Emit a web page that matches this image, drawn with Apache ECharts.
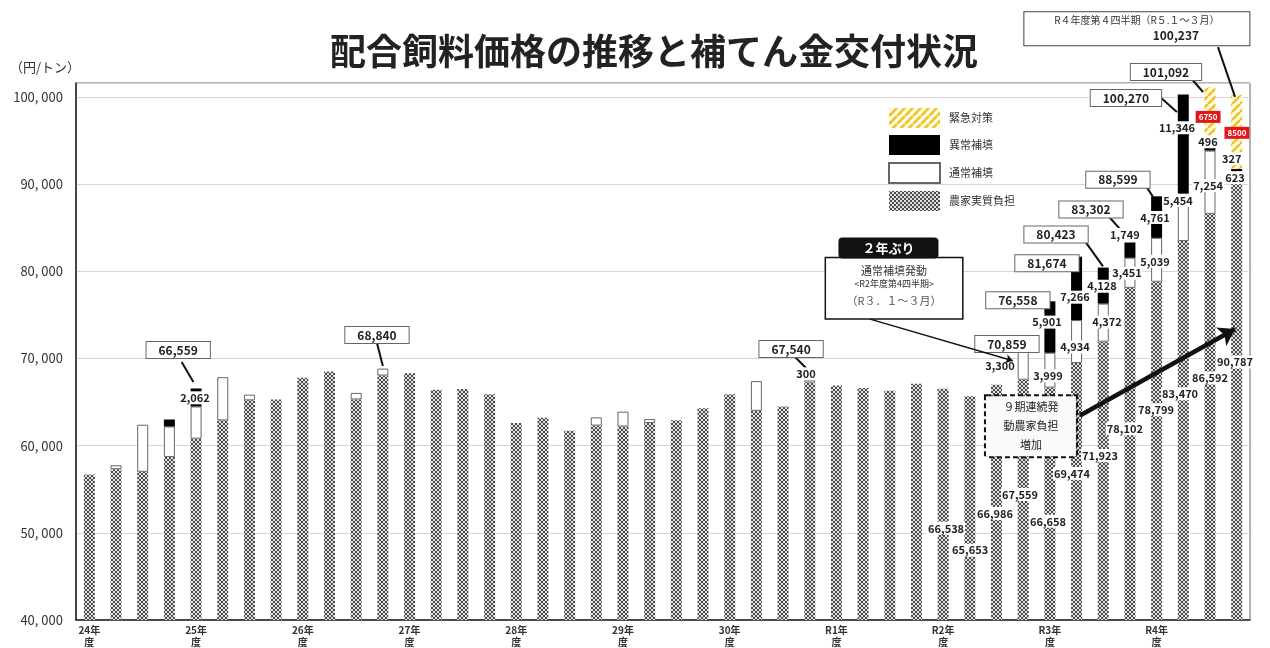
<!DOCTYPE html>
<html><head><meta charset="utf-8">
<script src="https://cdn.jsdelivr.net/npm/echarts@6/dist/echarts.min.js"></script>
<style>html,body{margin:0;padding:0;background:#fff}#c{width:1270px;height:648px}</style>
</head><body><div id="c"></div>
<script>
// ---------- DATA ----------
const yearLabels = ['24年\n度','25年\n度','26年\n度','27年\n度','28年\n度','29年\n度','30年\n度','R1年\n度','R2年\n度','R3年\n度','R4年\n度'];
const quarters = ['Q1','Q2','Q3','Q4'];
const yTicks = [40000,50000,60000,70000,80000,90000,100000];
// 農家実質負担
const farmer = [56700,57300,57000,58700,60800,62900,65200,65300,67800,68500,
                65300,68040,68300,66400,66500,65900,62600,63200,61700,62300,
                62200,62600,62900,64300,65900,64000,64500,67240,66900,66600,
                66300,67100,66538,65653,66986,67559,66658,69474,71923,78102,
                78799,83470,86592,90787];
// 通常補填
const normal = [0,450,5400,3500,3697,4950,650,0,0,0,
                750,800,0,0,0,0,0,0,0,950,
                1700,450,0,0,0,3400,0,300,0,0,
                0,0,0,0,0,3300,3999,4934,4372,3451,
                5039,5454,7254,623];
// 異常補填
const abnormal = [0,0,0,800,2062,0,0,0,0,0,
                  0,0,0,0,0,0,0,0,0,0,
                  0,0,0,0,0,0,0,0,0,0,
                  0,0,0,0,0,0,5901,7266,4128,1749,
                  4761,11346,496,327];
// 緊急対策
const emergency = [0,0,0,0,0,0,0,0,0,0,
                   0,0,0,0,0,0,0,0,0,0,
                   0,0,0,0,0,0,0,0,0,0,
                   0,0,0,0,0,0,0,0,0,0,
                   0,0,6750,8500];

const categories = [];
yearLabels.forEach(y => quarters.forEach(q => categories.push(y.replace('\n','') + q)));
const seriesData = {farmer, normal, abnormal, emergency};
const total = i => farmer[i] + normal[i] + abnormal[i] + emergency[i];
const fmt = v => v.toLocaleString('en-US');

// ---------- ANNOTATION PLACEMENT (bar index, field, label position in axis units) ----------
const segLabelPos = [
  [4,'abnormal',3.96,65486],[27,'normal',26.86,68229],[35,'normal',34.13,69143],
  [36,'normal',35.93,68000],[36,'abnormal',35.89,74171],[37,'normal',36.94,71314],
  [37,'abnormal',36.94,77029],[38,'abnormal',37.95,78286],[38,'normal',38.14,74171],
  [39,'normal',38.89,79771],[39,'abnormal',38.81,84229],[40,'normal',39.94,81143],
  [40,'abnormal',39.94,86171],[41,'normal',40.80,88114],[41,'abnormal',40.76,96457],
  [42,'normal',41.93,89829],[42,'abnormal',41.93,94857],[43,'abnormal',42.82,92914],
  [43,'normal',42.94,90743],
  [32,'farmer',32.11,50514],[33,'farmer',33.01,48000],[34,'farmer',33.94,52229],
  [35,'farmer',34.88,54400],[36,'farmer',35.93,51314],[37,'farmer',36.83,56800],
  [38,'farmer',37.88,58857],[39,'farmer',38.81,61943],[40,'farmer',39.98,64114],
  [41,'farmer',40.88,65943],[42,'farmer',42.0,67771],[43,'farmer',42.94,69600]
];
const redLabelPos = [[42,'emergency',41.93,97714],[43,'emergency',43.01,95886]];
const totalBoxPos = [[4,3.33,70971],[11,10.78,72686],[27,26.30,71086],[35,34.39,71657],
  [36,34.80,76686],[37,35.89,80914],[38,36.23,84229],[39,37.54,87086],[40,38.55,90514],
  [41,38.85,99886],[42,40.35,102857]];
const leaderPos = [[3.46,69600,3.90,67314],[10.78,71771,11.00,69143],[26.45,70171,26.86,68914],
  [37.32,83429,37.99,80571],[38.14,86514,38.74,84457],[39.49,90286,39.86,88571],
  [40.13,100000,40.76,98286],[41.25,102286,41.74,100571],[42.30,105714,42.94,100000]];
const arrowPos = [
  {c:[29.26,74514,34.61,69748], w:1.5, s:7},
  {c:[37.13,63467,42.94,73371], w:4.5, s:16}
];

// ---------- PATTERNS ----------
function makePattern(w,h,draw){const c=document.createElement('canvas');c.width=w;c.height=h;draw(c.getContext('2d'));return c;}
const farmerPat = makePattern(4,4,g=>{g.fillStyle='#e2e2e2';g.fillRect(0,0,4,4);g.fillStyle='#4a4a4a';
  [[0,0],[3,0],[1,1],[2,1],[1,2],[2,2],[0,3],[3,3]].forEach(p=>g.fillRect(p[0],p[1],1,1));});
const yellowPat = makePattern(8,8,g=>{g.fillStyle='#fffbe0';g.fillRect(0,0,8,8);g.strokeStyle='#eec22a';g.lineWidth=2.6;
  g.beginPath();[-8,0,8].forEach(k=>{g.moveTo(k,8);g.lineTo(k+8,0);});g.stroke();});

const FONT = 'Noto Sans CJK JP';
const nz = arr => arr.map(v => v === 0 ? null : v);

// ---------- ANNOTATION ITEMS ----------
const labelItems = [];
segLabelPos.forEach(([b,k,x,y]) => labelItems.push({value:[x,y], label:{formatter: fmt(seriesData[k][b]),
  fontSize:11, fontWeight:'bold', color:'#222', backgroundColor:'#fff', padding:[1,1]}}));
redLabelPos.forEach(([b,k,x,y]) => labelItems.push({value:[x,y], label:{formatter: String(seriesData[k][b]),
  fontSize:8, fontWeight:'bold', color:'#fff', backgroundColor:'#e0161b', padding:[2,3]}}));
totalBoxPos.forEach(([b,x,y]) => labelItems.push({value:[x,y], label:{formatter: fmt(total(b)),
  fontSize:12, fontWeight:'bold', color:'#222', backgroundColor:'#fff', borderColor:'#666', borderWidth:1, padding:[2,12]}}));
// top right box
labelItems.push({value:[39.26,107829], label:{formatter:'{a|R４年度第４四半期（R５.１～３月）}\n{b|' + fmt(total(43)) + '}',
  width:225, height:31, backgroundColor:'#fff', borderColor:'#444', borderWidth:1, align:'center', padding:[1,0],
  rich:{a:{fontSize:10, color:'#333', fontFamily:FONT, lineHeight:15, align:'center'},
        b:{fontSize:12, fontWeight:'bold', color:'#222', fontFamily:FONT, lineHeight:15, align:'center', padding:[0,0,0,78]}}}});
// explanation box
labelItems.push({value:[30.16,78057], label:{formatter:'{a|通常補填発動}\n{b|<R2年度第4四半期>}\n{c|（R３．１～３月）}',
  width:136, height:60, backgroundColor:'#fff', borderColor:'#111', borderWidth:1.5, align:'center', padding:[0,0],
  rich:{a:{fontSize:11, color:'#333', fontFamily:FONT, lineHeight:17, align:'center', padding:[8,0,0,0]},
        b:{fontSize:9, color:'#333', fontFamily:FONT, lineHeight:17, align:'center'},
        c:{fontSize:11, color:'#555', fontFamily:FONT, lineHeight:17, align:'center'}}}});
// 2年ぶり badge
labelItems.push({value:[29.95,82686], label:{formatter:'２年ぶり', fontSize:13, fontWeight:'bold', color:'#fff',
  backgroundColor:'#111', borderRadius:4, padding:[4,24]}});
// dashed box
labelItems.push({value:[35.29,62229], label:{formatter:'９期連続発\n動農家負担\n増加', fontSize:11, color:'#222',
  lineHeight:19, align:'center', width:90, height:58, backgroundColor:'#fafafa', borderColor:'#111', borderWidth:2,
  borderType:[5,3], padding:[1,0]}});

const option = {
  animation:false,
  textStyle:{fontFamily:FONT},
  title:{text:'配合飼料価格の推移と補てん金交付状況', left:325, top:28,
    textStyle:{fontSize:36, fontWeight:'bold', color:'#222', fontFamily:FONT}},
  legend:{orient:'vertical', left:883, top:103, itemWidth:51, itemHeight:20, itemGap:7, icon:'rect',
    data:['緊急対策','異常補填','通常補填','農家実質負担'],
    textStyle:{fontSize:11, color:'#333', fontFamily:FONT, padding:[0,0,0,4]}},
  grid:{left:76, right:20, top:83, bottom:26, show:true, borderColor:'#666', borderWidth:1},
  xAxis:[
    {type:'category', data:categories, boundaryGap:true,
     axisTick:{show:false}, axisLine:{lineStyle:{color:'#222', width:1.5}},
     axisLabel:{interval:3, formatter:(v,i)=> i%4===0 ? yearLabels[i/4] : '', fontSize:10, fontWeight:'bold',
       color:'#333', lineHeight:12, margin:4, fontFamily:FONT}},
    {type:'value', min:-0.5, max:43.5, show:false}
  ],
  yAxis:{type:'value', min:40000, max:101600, interval:10000,
    name:'（円/トン）', nameLocation:'end', nameGap:9,
    nameTextStyle:{fontSize:13, color:'#333', align:'center', padding:[0,62,0,0], fontFamily:FONT},
    axisLine:{show:true, onZero:false, lineStyle:{color:'#222', width:1.5}}, axisTick:{show:false},
    axisLabel:{formatter:v => yTicks.includes(v) ? (v/1000) + ', 000' : '', fontSize:13, color:'#333', margin:13, fontFamily:FONT},
    splitLine:{lineStyle:{color:'#d6d6d6'}}},
  series:[
    {name:'農家実質負担', type:'bar', stack:'t', barWidth:11, data:nz(farmer),
     itemStyle:{color:{image:farmerPat, repeat:'repeat'}}},
    {name:'通常補填', type:'bar', stack:'t', barWidth:11, data:nz(normal),
     itemStyle:{color:'#fff', borderColor:'#666', borderWidth:1}},
    {name:'異常補填', type:'bar', stack:'t', barWidth:11, data:nz(abnormal),
     itemStyle:{color:'#000'}},
    {name:'緊急対策', type:'bar', stack:'t', barWidth:11, data:nz(emergency),
     itemStyle:{color:{image:yellowPat, repeat:'repeat'}}},
    {type:'lines', coordinateSystem:'cartesian2d', xAxisIndex:1, yAxisIndex:0, clip:false, z:4, silent:true,
     data: leaderPos.map(l => ({coords:[[l[0],l[1]],[l[2],l[3]]]})),
     lineStyle:{color:'#111', width:2, opacity:1}, symbol:'none'},
    ...arrowPos.map(a => ({type:'lines', coordinateSystem:'cartesian2d', xAxisIndex:1, yAxisIndex:0, clip:false, z:6, silent:true,
     data:[{coords:[[a.c[0],a.c[1]],[a.c[2],a.c[3]]]}], symbol:['none','arrow'], symbolSize:a.s,
     lineStyle:{color:'#111', width:a.w, opacity:1}})),
    {type:'scatter', xAxisIndex:1, yAxisIndex:0, clip:false, z:5, silent:true, symbolSize:0,
     itemStyle:{opacity:1},
     data: labelItems, label:{show:true, position:'inside', fontFamily:FONT}}
  ]
};
const chart = echarts.init(document.getElementById('c'), null, {renderer:'canvas'});
chart.setOption(option);
</script></body></html>
